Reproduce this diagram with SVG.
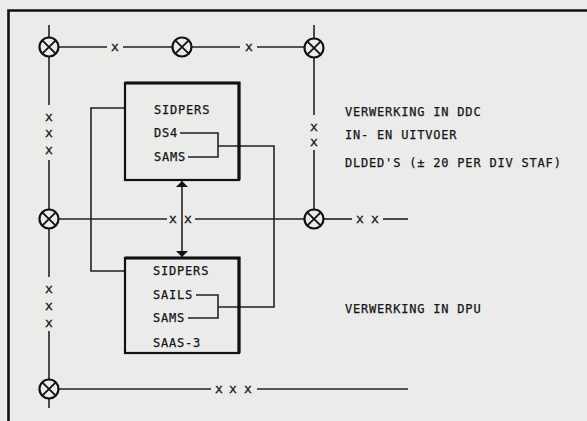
<svg xmlns="http://www.w3.org/2000/svg" width="587" height="421" viewBox="0 0 587 421">
<defs>
<marker id="ah" viewBox="0 0 10 10" refX="10" refY="5" markerWidth="6" markerHeight="12" markerUnits="userSpaceOnUse" orient="auto-start-reverse" preserveAspectRatio="none">
<path d="M0,0 L10,5 L0,10 z" fill="#111"/>
</marker>
<g id="sym">
<circle cx="0" cy="0" r="9.5" fill="none" stroke="#111" stroke-width="2.2"/>
<line x1="-6.7" y1="-6.7" x2="6.7" y2="6.7" stroke="#111" stroke-width="1.8"/>
<line x1="-6.7" y1="6.7" x2="6.7" y2="-6.7" stroke="#111" stroke-width="1.8"/>
</g>
</defs>
<style>
.t{font-family:"DejaVu Sans Mono","Liberation Mono",monospace;font-size:12px;letter-spacing:0.8px;fill:#161616;stroke:#161616;stroke-width:0.25}
.x{font-family:"DejaVu Sans Mono","Liberation Mono",monospace;font-size:13px;fill:#161616;stroke:#161616;stroke-width:0.3;text-anchor:middle}
.ln{stroke:#222;stroke-width:1.6;fill:none}
.box{fill:none;stroke:#111;stroke-width:2.2}
.heavy{stroke:#111;stroke-width:3.2;fill:none}
</style>
<rect width="587" height="421" fill="#ebebea"/>
<g id="frame">
<path d="M587,10.5 H8.5 V421" fill="none" stroke="#111" stroke-width="2.6"/>
</g>
<g id="connectors">
<line class="ln" x1="59" y1="47" x2="107" y2="47"/>
<line class="ln" x1="123" y1="47" x2="172" y2="47"/>
<line class="ln" x1="192" y1="47" x2="240" y2="47"/>
<line class="ln" x1="257" y1="47" x2="304" y2="47"/>
<line class="ln" x1="49" y1="25" x2="49" y2="37"/>
<line class="ln" x1="49" y1="57" x2="49" y2="105"/>
<line class="ln" x1="49" y1="160" x2="49" y2="209"/>
<line class="ln" x1="49" y1="229" x2="49" y2="277"/>
<line class="ln" x1="49" y1="331" x2="49" y2="379"/>
<line class="ln" x1="49" y1="399" x2="49" y2="408"/>
<line class="ln" x1="314" y1="25" x2="314" y2="38"/>
<line class="ln" x1="314" y1="58" x2="314" y2="115"/>
<line class="ln" x1="314" y1="150" x2="314" y2="209"/>
<line class="ln" x1="59" y1="219" x2="167" y2="219"/>
<line class="ln" x1="195" y1="219" x2="304" y2="219"/>
<line class="ln" x1="324" y1="219" x2="352" y2="219"/>
<line class="ln" x1="383" y1="219" x2="408" y2="219"/>
<line class="ln" x1="59" y1="389" x2="211" y2="389"/>
<line class="ln" x1="257" y1="389" x2="408" y2="389"/>
<polyline class="ln" points="125,108 91,108 91,271 125,271"/>
<polyline class="ln" points="180,133 218,133 218,157 188,157"/>
<polyline class="ln" points="218,146 274,146 274,307 218,307"/>
<polyline class="ln" points="196,295 218,295 218,318 188,318"/>
<line class="ln" x1="182" y1="181" x2="182" y2="257" marker-start="url(#ah)" marker-end="url(#ah)"/>
<text class="x" x="115" y="51">x</text>
<text class="x" x="249" y="51">x</text>
<text class="x" x="49" y="121">x</text>
<text class="x" x="49" y="137">x</text>
<text class="x" x="49" y="154">x</text>
<text class="x" x="314" y="131">x</text>
<text class="x" x="314" y="146">x</text>
<text class="x" x="173" y="223">x</text>
<text class="x" x="188" y="223">x</text>
<text class="x" x="360" y="223">x</text>
<text class="x" x="375" y="223">x</text>
<text class="x" x="49" y="293">x</text>
<text class="x" x="49" y="310">x</text>
<text class="x" x="49" y="327">x</text>
<text class="x" x="219" y="393">x</text>
<text class="x" x="233" y="393">x</text>
<text class="x" x="248" y="393">x</text>
</g>
<g id="n1"><use href="#sym" x="49" y="47"/></g>
<g id="n2"><use href="#sym" x="182" y="47"/></g>
<g id="n3"><use href="#sym" x="314" y="48"/></g>
<g id="n4"><use href="#sym" x="49" y="219"/></g>
<g id="n5"><use href="#sym" x="314" y="219"/></g>
<g id="n6"><use href="#sym" x="49" y="389"/></g>
<g id="ddc">
<rect class="box" x="125" y="83" width="114" height="97"/>
<path class="heavy" d="M125,83 H239 V180"/>
<text class="t" x="154" y="114">SIDPERS</text>
<text class="t" x="154" y="137">DS4</text>
<text class="t" x="154" y="161">SAMS</text>
</g>
<g id="dpu">
<rect class="box" x="125" y="258" width="114" height="95"/>
<path class="heavy" d="M125,258 H239 V353"/>
<text class="t" x="153" y="275">SIDPERS</text>
<text class="t" x="153" y="299">SAILS</text>
<text class="t" x="153" y="322">SAMS</text>
<text class="t" x="153" y="347">SAAS-3</text>
</g>
<g id="labels">
<text class="t" x="345" y="116">VERWERKING IN DDC</text>
<text class="t" x="345" y="139">IN- EN UITVOER</text>
<text class="t" x="345" y="167">DLDED'S (± 20 PER DIV STAF)</text>
<text class="t" x="345" y="313">VERWERKING IN DPU</text>
</g>
</svg>
